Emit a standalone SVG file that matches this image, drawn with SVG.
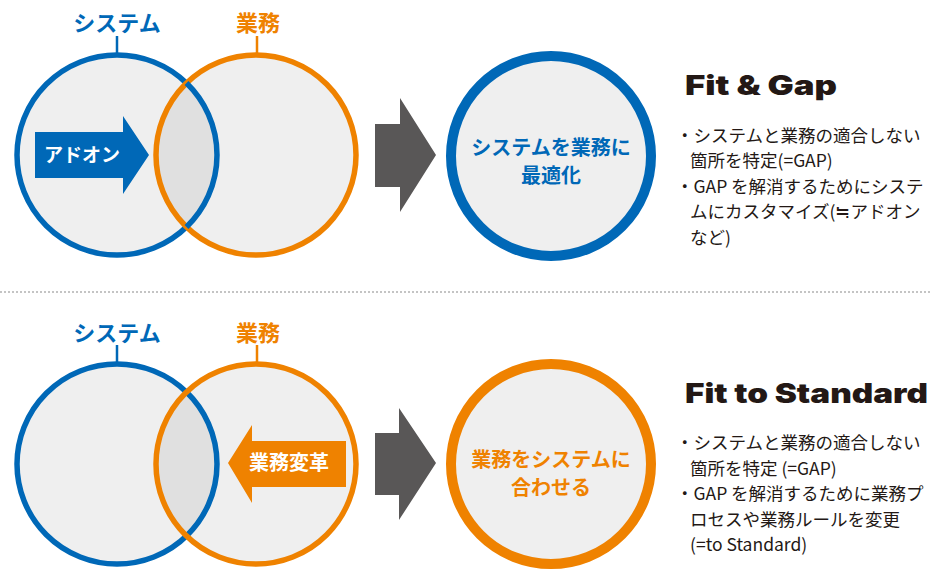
<svg xmlns="http://www.w3.org/2000/svg" width="931" height="569" viewBox="0 0 931 569">
<style>
.bg{fill:#ffffff}
.circ{fill:#efefef;stroke-width:5.5}
.blue{stroke:#0068b7}
.orange{stroke:#ef8200}
.lens{fill:#e0e0e0}
.res{fill:#efefef;stroke-width:10}
.tick{stroke-width:2.5}
.big{fill:#595757}
.lbl{font-family:"Noto Sans CJK JP","Noto Sans",sans-serif;font-weight:700;text-anchor:middle}
.lblb{fill:#0068b7;font-size:22px}
.lblo{fill:#ef8200;font-size:22px}
.inarrow{fill:#ffffff;font-size:19px}
.restxt{font-size:20px}
.title{font-family:Inter,"Liberation Sans",sans-serif;font-weight:900;font-size:27px;fill:#231815}
.body{font-family:"Noto Sans CJK JP",sans-serif;font-size:17.5px;fill:#231815}
.div{stroke:#8a8a8a;stroke-width:1.2;stroke-dasharray:2 2}
</style>
<rect class="bg" x="0" y="0" width="931" height="569"/>

<!-- TOP SECTION -->
<g id="top-system">
  <line class="tick blue" x1="117" y1="36" x2="117" y2="53"/>
  <text class="lbl lblb" x="117" y="31">システム</text>
</g>
<g id="top-gyomu">
  <line class="tick orange" x1="257" y1="36" x2="257" y2="53"/>
  <text class="lbl lblo" x="258" y="31">業務</text>
</g>
<g id="top-venn">
  <circle class="circ blue" cx="117" cy="155" r="100"/>
  <circle class="circ orange" cx="256" cy="155" r="100" style="stroke:none"/>
  <path class="lens" d="M186.5,83.1 A100,100 0 0 1 186.5,226.9 A100,100 0 0 1 186.5,83.1 Z"/>
  <circle cx="256" cy="155" r="100" fill="none" stroke="#ef8200" stroke-width="5.5"/>
  <path d="M186.5,83.1 A100,100 0 0 1 186.5,226.9" fill="none" stroke="#0068b7" stroke-width="5.5"/>
</g>
<g id="top-addon">
  <path d="M35,132 H123 V116 L149,155 L123,194 V178 H35 Z" fill="#0068b7"/>
  <text class="lbl inarrow" x="82" y="162">アドオン</text>
</g>
<g id="top-result">
  <circle class="res blue" cx="551" cy="156" r="100"/>
  <text class="lbl restxt" x="551" y="155" fill="#0068b7">システムを業務に</text>
  <text class="lbl restxt" x="551" y="183" fill="#0068b7">最適化</text>
</g>
<g id="top-text">
  <text class="title" x="685" y="95" textLength="152" lengthAdjust="spacingAndGlyphs">Fit &amp; Gap</text>
  <text class="body" x="676" y="141.5">・システムと業務の適合しない</text>
  <text class="body" x="690" y="167">箇所を特定(=GAP)</text>
  <text class="body" x="676" y="192.5">・GAP を解消するためにシステ</text>
  <text class="body" x="690" y="218">ムにカスタマイズ(≒アドオン</text>
  <text class="body" x="690" y="243.5">など)</text>
</g>

<!-- DIVIDER -->
<line id="divider" class="div" x1="0" y1="292" x2="931" y2="292"/>

<!-- BOTTOM SECTION -->
<g id="bottom-system">
  <line class="tick blue" x1="117" y1="345" x2="117" y2="362"/>
  <text class="lbl lblb" x="117" y="341">システム</text>
</g>
<g id="bottom-gyomu">
  <line class="tick orange" x1="257" y1="345" x2="257" y2="362"/>
  <text class="lbl lblo" x="258" y="341">業務</text>
</g>
<g id="bottom-venn">
  <circle class="circ blue" cx="117" cy="464" r="100"/>
  <circle cx="256" cy="464" r="100" fill="#efefef"/>
  <path class="lens" d="M186.5,392.1 A100,100 0 0 1 186.5,535.9 A100,100 0 0 1 186.5,392.1 Z"/>
  <path d="M186.5,392.1 A100,100 0 0 1 186.5,535.9" fill="none" stroke="#0068b7" stroke-width="5.5"/>
  <circle cx="256" cy="464" r="100" fill="none" stroke="#ef8200" stroke-width="5.5"/>
</g>
<g id="bottom-change">
  <path d="M346,441 H252 V425 L228,463 L252,503 V487 H346 Z" fill="#ef8200"/>
  <text class="lbl inarrow" x="289" y="470" style="font-size:20px">業務変革</text>
</g>
<g id="bottom-result">
  <circle class="res orange" cx="551" cy="464" r="100"/>
  <text class="lbl restxt" x="551" y="467" fill="#ef8200">業務をシステムに</text>
  <text class="lbl restxt" x="551" y="495" fill="#ef8200">合わせる</text>
</g>
<g id="bottom-text">
  <text class="title" x="685" y="403" textLength="243" lengthAdjust="spacingAndGlyphs">Fit to Standard</text>
  <text class="body" x="676" y="449">・システムと業務の適合しない</text>
  <text class="body" x="690" y="474.5">箇所を特定 (=GAP)</text>
  <text class="body" x="676" y="500">・GAP を解消するために業務プ</text>
  <text class="body" x="690" y="525.5">ロセスや業務ルールを変更</text>
  <text class="body" x="690" y="551">(=to Standard)</text>
</g>

<!-- CONNECTORS -->
<g id="connectors">
  <path class="big" d="M375,124 H400 V98 L436,155 L400,212 V187 H375 Z"/>
  <path class="big" d="M375,433 H399 V408 L436,463 L399,520 V495 H375 Z"/>
</g>
</svg>
